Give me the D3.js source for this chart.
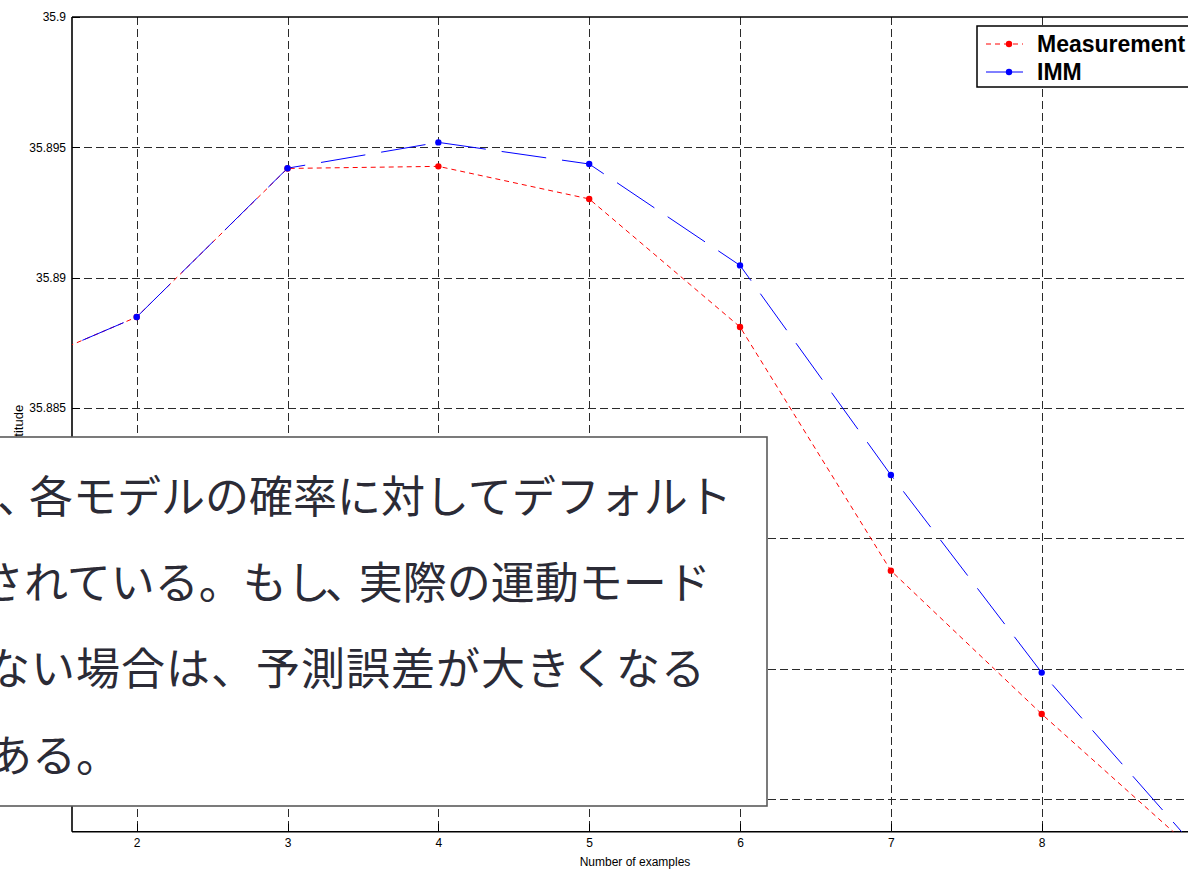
<!DOCTYPE html>
<html>
<head>
<meta charset="utf-8">
<script src="https://cdn.jsdelivr.net/npm/d3@7"></script>
<style>
html,body{margin:0;padding:0;background:#fff;overflow:hidden;}
svg{display:block;}
</style>
</head>
<body>
<svg id="chart" width="1188" height="869"></svg>
<script>
// ---- data ----
const samples = [1, 2, 3, 4, 5, 6, 7, 8, 9];
const measurement = [35.88601, 35.88849, 35.89419, 35.89427, 35.89302, 35.88811, 35.87876, 35.87326, 35.86808];
const imm = [35.88601, 35.88849, 35.89420, 35.89519, 35.89436, 35.89047, 35.88243, 35.87485, 35.86827];
const xTicks = [2, 3, 4, 5, 6, 7, 8];
const yGrid = [35.895, 35.89, 35.885, 35.88, 35.875, 35.87];
const yTicks = [35.9, 35.895, 35.89, 35.885];
const yTickLabels = ["35.9", "35.895", "35.89", "35.885"];
const seriesNames = ["Measurement", "IMM"];
const xLabel = "Number of examples";
const yLabel = "Latitude";
const noteLines = [
  "、各モデルの確率に対してデフォルト",
  "されている。もし、実際の運動モード",
  "ない場合は、予測誤差が大きくなる",
  "ある。"
];

(function () {
// ---- layout ----
const svg = d3.select("#chart");
const pL = 72, pT = 17, pB = 831.7, pR = 1300;
const x = d3.scaleLinear().domain([2, 8]).range([136.7, 1041.7]);
const y = d3.scaleLinear().domain([35.9, 35.885]).range([17, 408]);

svg.append("defs").append("clipPath").attr("id", "plotclip")
  .append("rect").attr("x", pL).attr("y", pT).attr("width", pR - pL).attr("height", pB - pT);

// grid
const grid = svg.append("g").attr("stroke", "#2a2a2a").attr("stroke-width", 1).attr("stroke-dasharray", "8,4").attr("fill", "none");
grid.selectAll(".vg").data(xTicks).join("line")
  .attr("x1", d => Math.round(x(d)) + 0.5).attr("x2", d => Math.round(x(d)) + 0.5)
  .attr("y1", pT).attr("y2", pB);
grid.selectAll(".hg").data(yGrid).join("line")
  .attr("x1", pL).attr("x2", pR)
  .attr("y1", d => Math.round(y(d)) + 0.5).attr("y2", d => Math.round(y(d)) + 0.5);

// ticks (inward)
const ticks = svg.append("g").attr("stroke", "#000").attr("stroke-width", 1);
ticks.selectAll(".xt").data(xTicks).join("line")
  .attr("x1", d => Math.round(x(d)) + 0.5).attr("x2", d => Math.round(x(d)) + 0.5)
  .attr("y1", pB - 8).attr("y2", pB);
ticks.selectAll(".yt").data(yTicks).join("line")
  .attr("x1", pL).attr("x2", pL + 8)
  .attr("y1", d => Math.round(y(d)) + 0.5).attr("y2", d => Math.round(y(d)) + 0.5);

// axes box
const axes = svg.append("g").attr("stroke", "#000").attr("stroke-width", 1.6).attr("fill", "none");
axes.append("line").attr("x1", pL).attr("x2", pR).attr("y1", pT).attr("y2", pT);
axes.append("line").attr("x1", pL).attr("x2", pR).attr("y1", pB).attr("y2", pB);
axes.append("line").attr("x1", pL).attr("x2", pL).attr("y1", pT).attr("y2", pB);

// tick labels
svg.append("g").selectAll("text").data(yTicks).join("text")
  .attr("x", 66).attr("y", d => y(d)).attr("dy", "0.35em")
  .attr("text-anchor", "end").attr("font-family", "Liberation Sans, Arial, sans-serif")
  .attr("font-size", 12).attr("fill", "#000")
  .text((d, i) => yTickLabels[i]);
svg.append("g").selectAll("text").data(xTicks).join("text")
  .attr("x", d => x(d) + 0.5).attr("y", 847)
  .attr("text-anchor", "middle").attr("font-family", "Liberation Sans, Arial, sans-serif")
  .attr("font-size", 12).attr("fill", "#000")
  .text(d => d);
svg.append("text").attr("x", 635).attr("y", 866).attr("text-anchor", "middle")
  .attr("font-family", "Liberation Sans, Arial, sans-serif").attr("font-size", 12).attr("fill", "#000")
  .text(xLabel);
svg.append("text").attr("transform", "translate(23,428) rotate(-90)").attr("text-anchor", "middle")
  .attr("font-family", "Liberation Sans, Arial, sans-serif").attr("font-size", 13).attr("fill", "#000")
  .text(yLabel);

// series
const line = d3.line().x((d, i) => x(samples[i])).y(d => y(d));
const plot = svg.append("g").attr("clip-path", "url(#plotclip)");
plot.append("path").datum(measurement).attr("d", line)
  .attr("fill", "none").attr("stroke", "#ff0000").attr("stroke-width", 1).attr("stroke-dasharray", "5,4");
// phase the long IMM dashes so a dash ends at sample 8 as in the original
const tmp = plot.append("path").attr("d", line(imm.slice(0, 8)));
const L8 = tmp.node().getTotalLength();
tmp.remove();
const period = 61, dashLen = 45;
const offset = (((dashLen - L8) % period) + period) % period;
plot.append("path").datum(imm).attr("d", line)
  .attr("fill", "none").attr("stroke", "#0000ff").attr("stroke-width", 1)
  .attr("stroke-dasharray", dashLen + "," + (period - dashLen)).attr("stroke-dashoffset", offset);
plot.append("g").selectAll("circle").data(measurement).join("circle")
  .attr("cx", (d, i) => x(samples[i])).attr("cy", d => y(d)).attr("r", 3.2).attr("fill", "#ff0000");
plot.append("g").selectAll("circle").data(imm).join("circle")
  .attr("cx", (d, i) => x(samples[i])).attr("cy", d => y(d)).attr("r", 3.2).attr("fill", "#0000ff");

// legend
const lg = svg.append("g");
lg.append("rect").attr("x", 977).attr("y", 26).attr("width", 260).attr("height", 61)
  .attr("fill", "#fff").attr("stroke", "#000").attr("stroke-width", 1.5);
const legendColors = ["#ff0000", "#0000ff"];
const legendDash = ["5,4", null];
seriesNames.forEach((name, i) => {
  const ly = 44 + i * 28;
  lg.append("line").attr("x1", 986).attr("x2", 1023).attr("y1", ly).attr("y2", ly)
    .attr("stroke", legendColors[i]).attr("stroke-width", 1).attr("stroke-dasharray", legendDash[i]);
  lg.append("circle").attr("cx", 1009).attr("cy", ly).attr("r", 3.2).attr("fill", legendColors[i]);
  lg.append("text").attr("x", 1037).attr("y", ly + 8).attr("font-family", "Liberation Sans, Arial, sans-serif")
    .attr("font-weight", "bold").attr("font-size", 23).attr("fill", "#000").text(name);
});

// note box
const note = svg.append("g");
note.append("rect").attr("x", -5).attr("y", 437).attr("width", 772).attr("height", 369)
  .attr("fill", "#fff").attr("stroke", "#5a5a5a").attr("stroke-width", 1.6);
const noteX = [-3, -20, -14, -12];
const noteY = [513, 599, 685, 772];
// per-character shifts for tight punctuation (one text element per line)
const noteDx = ["0 -12", "0 0 0 0 0 0 0 0 -6 -10", null, null];
const noteSpacing = [0, 0, 1, 0];
note.selectAll("text").data(noteLines).join("text")
  .attr("x", (d, i) => noteX[i]).attr("y", (d, i) => noteY[i])
  .attr("dx", (d, i) => noteDx[i])
  .attr("letter-spacing", (d, i) => noteSpacing[i])
  .attr("font-family", "Noto Sans CJK JP, sans-serif").attr("font-size", 44).attr("fill", "#2b2b36")
  .text(d => d);
})();
</script>
</body>
</html>
